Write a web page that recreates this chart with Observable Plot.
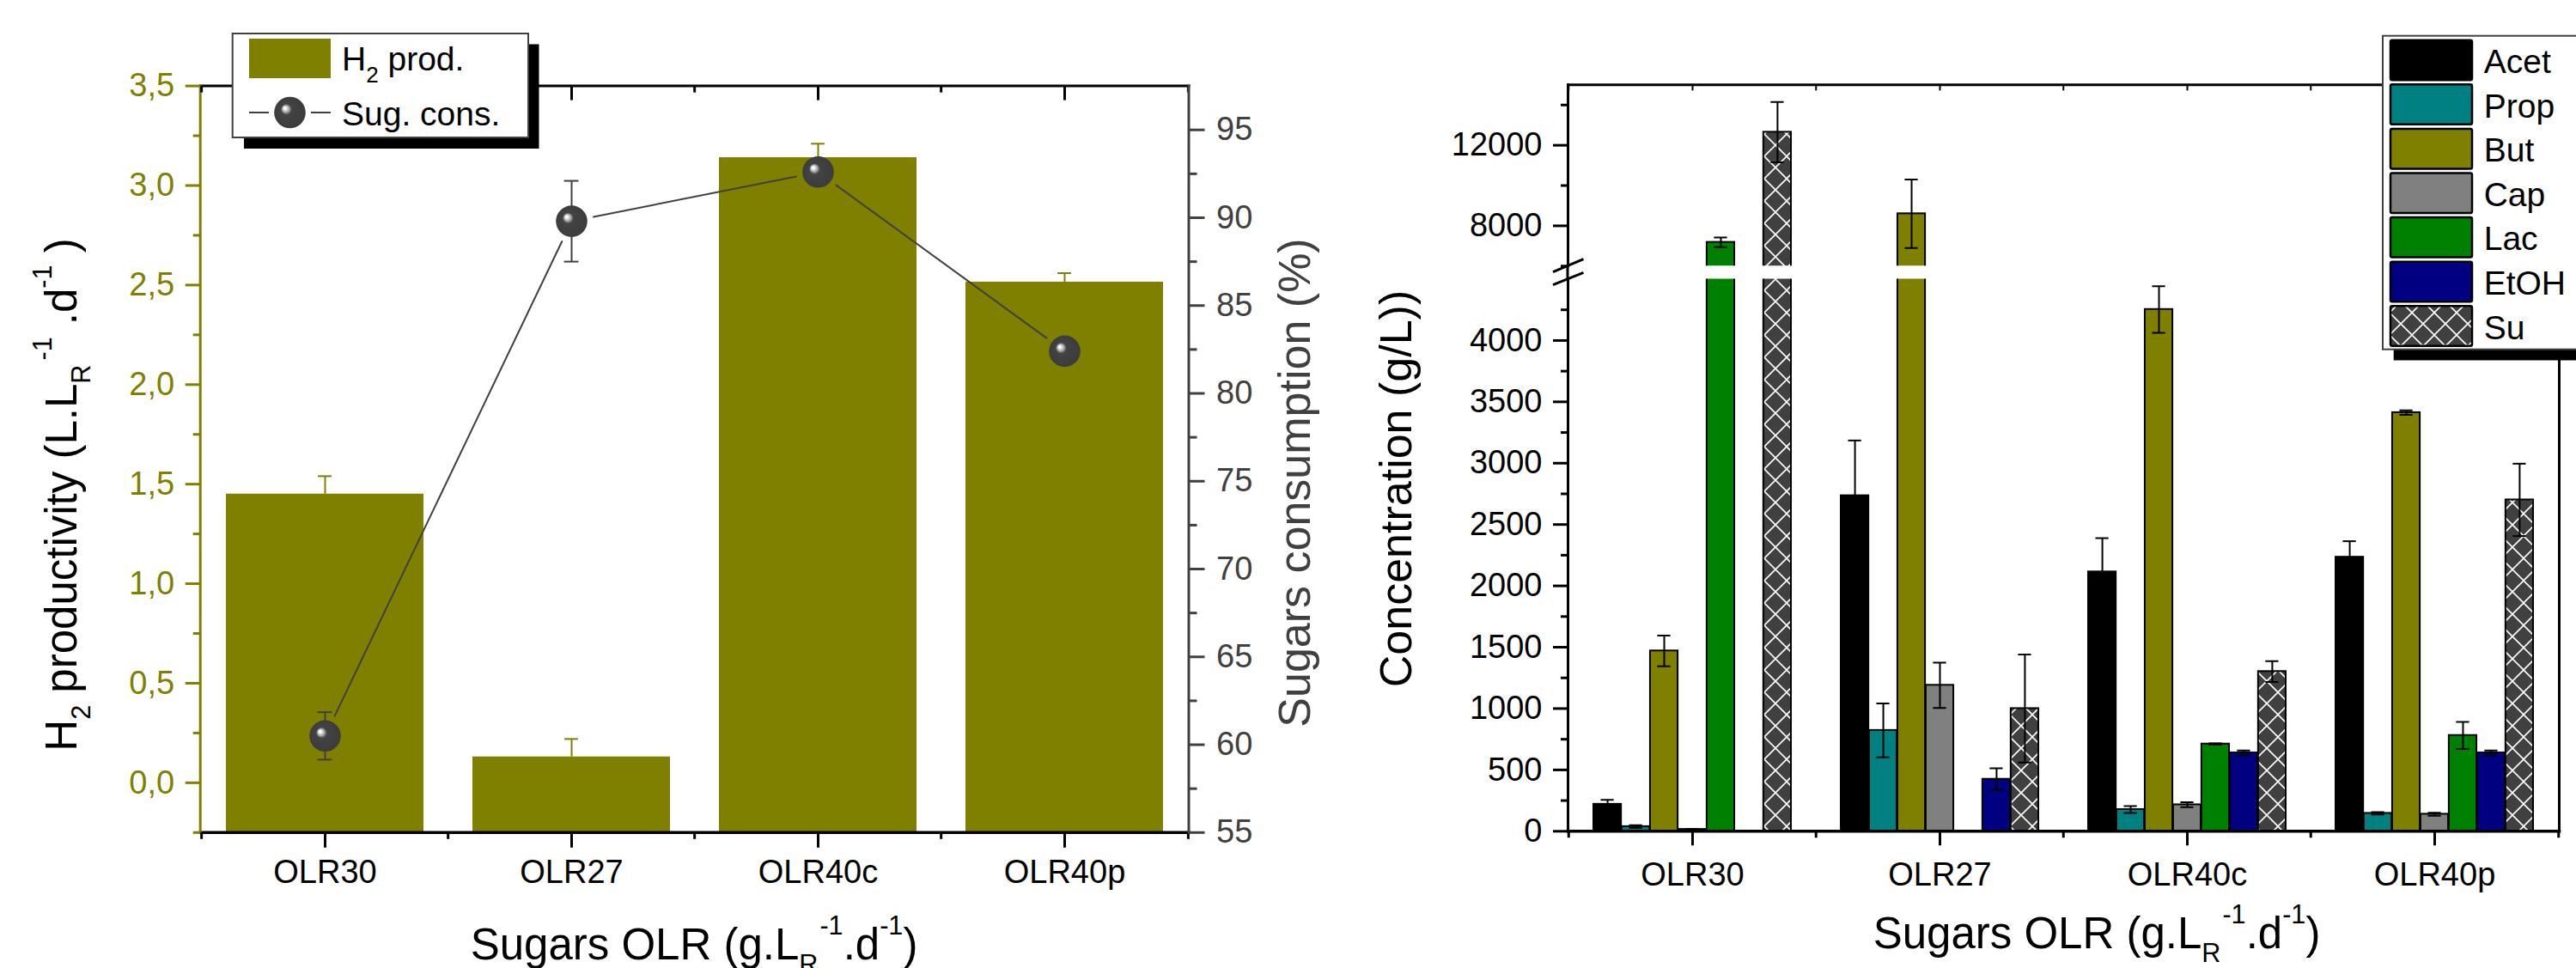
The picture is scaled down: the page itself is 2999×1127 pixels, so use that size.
<!DOCTYPE html>
<html><head><meta charset="utf-8">
<script src="https://cdn.jsdelivr.net/npm/d3@7"></script>
<script src="https://cdn.jsdelivr.net/npm/@observablehq/plot@0.6"></script>
<style>
html,body{margin:0;padding:0;background:#fff;}
#wrap{position:relative;width:2999px;height:1127px;overflow:hidden;background:#fff;}
#wrap svg{position:absolute;left:0;top:0;}
</style></head><body><div id="wrap"></div>
<script>
// ---------------- data ----------------
const categories = ["OLR30", "OLR27", "OLR40c", "OLR40p"];
const h2Prod = [1.45, 0.13, 3.14, 2.515];
const h2ProdErr = [0.09, 0.09, 0.07, 0.045];
const sugarsCons = [60.5, 89.8, 92.6, 82.4];
const sugarsConsErr = [1.35, 2.3, 0.5, 0.3];

const species = ["Acet", "Prop", "But", "Cap", "Lac", "EtOH", "Su"];
const acetConc = [220, 2735, 2114, 2234];
const acetErr = [35, 450, 275, 130];
const propConc = [38, 822, 177, 146];
const propErr = [11, 220, 28, 10];
const butConc = [1470, 8600, 4253, 3412];
const butErr = [125, 1700, 190, 18];
const capConc = [15, 1190, 216, 139];
const capErr = [3, 185, 20, 12];
const lacConc = [7180, 0, 711, 781];
const lacErr = [240, 0, 5, 110];
const etohConc = [0, 424, 639, 639];
const etohErr = [0, 90, 20, 20];
const suConc = [12650, 1000, 1302, 2701];
const suErr = [1500, 440, 85, 295];

const h2Ticks = [0, 0.5, 1, 1.5, 2, 2.5, 3, 3.5];
const h2MinorTicks = [-0.25, 0.25, 0.75, 1.25, 1.75, 2.25, 2.75, 3.25];
const sugTicks = [55, 60, 65, 70, 75, 80, 85, 90, 95];
const sugMinorTicks = [57.5, 62.5, 67.5, 72.5, 77.5, 82.5, 87.5, 92.5];
const concLowTicks = [0, 500, 1000, 1500, 2000, 2500, 3000, 3500, 4000];
const concLowMinorTicks = [250, 750, 1250, 1750, 2250, 2750, 3250, 3750, 4250];
const concHighTicks = [8000, 12000];
const concHighMinorTicks = [6000, 10000, 14000];

const h2Domain = [-0.25, 3.5];
const sugDomain = [55, 97.5];
const concLowDomain = [0, 4500];
const concHighDomain = [6000, 15000];

// ---------------- styles ----------------
const olive = "#808000", dark = "#404040";
const speciesColors = ["#000000", "#008080", "#808000", "#808080", "#008000", "#000080", "url(#suHatch)"];
const font = "'Liberation Sans', Arial, Helvetica, sans-serif";
const W = 2999, H = 1127;
const wrap = document.getElementById("wrap");

// defs: sphere gradient + hatch pattern
const defs = d3.select(wrap).append("svg").attr("width", 0).attr("height", 0).append("defs");
const rg = defs.append("radialGradient").attr("id", "sphere")
  .attr("cx", "50%").attr("cy", "50%").attr("r", "50%").attr("fx", "33%").attr("fy", "35%");
[[0, "#ffffff"], [0.08, "#ffffff"], [0.13, "#d4d4d4"], [0.22, "#a9a9a9"], [0.29, "#6a6a6a"], [0.35, "#434343"], [1, "#3c3c3c"]]
  .forEach(([o, c]) => rg.append("stop").attr("offset", o).attr("stop-color", c));
const pat = defs.append("pattern").attr("id", "suHatch").attr("patternUnits", "userSpaceOnUse")
  .attr("width", 26).attr("height", 26);
pat.append("rect").attr("width", 26).attr("height", 26).attr("fill", "#404040");
pat.append("path").attr("d", "M0,0L26,26M26,0L0,26").attr("stroke", "#ffffff").attr("stroke-width", 1.6);

// ---------------- layout helpers ----------------
function base(fr) {
  return {
    width: W, height: H,
    marginLeft: fr.left, marginRight: W - fr.right, marginTop: fr.top, marginBottom: H - fr.bottom,
    style: {background: "transparent", fontFamily: font, fontSize: "38px", overflow: "visible"}
  };
}
const xBand = {type: "band", domain: categories, paddingInner: 0.2, paddingOuter: 0.1, label: null};
const blank = () => "";

// ---------------- LEFT CHART ----------------
const L = {left: 232.7, right: 1383.5, top: 99.6, bottom: 968.8};
const stepL = (L.right - L.left) / 4, bwL = stepL * 0.8, hL = L.bottom - L.top;
const h2Data = categories.map((c, i) => ({cat: c, v: h2Prod[i], e: h2ProdErr[i]}));
const sugData = categories.map((c, i) => ({cat: c, v: sugarsCons[i], e: sugarsConsErr[i]}));
const sugLinks = sugData.slice(1).map((d, i) => ({a: sugData[i], b: d}));

const L1 = Plot.plot({
  ...base(L),
  x: xBand,
  y: {domain: h2Domain, label: null},
  marks: [
    Plot.barY(h2Data, {x: "cat", y1: h2Domain[0], y2: "v", fill: olive}),
    Plot.ruleX(h2Data, {x: "cat", y1: "v", y2: d => d.v + d.e, stroke: olive, strokeWidth: 2}),
    Plot.tickY(h2Data, {x: "cat", y: d => d.v + d.e, stroke: olive, strokeWidth: 2, insetLeft: bwL / 2 - 8, insetRight: bwL / 2 - 8}),
    Plot.frame({anchor: "top", stroke: "black", strokeWidth: 3}),
    Plot.frame({anchor: "bottom", stroke: "black", strokeWidth: 3.5}),
    Plot.frame({anchor: "left", stroke: olive, strokeWidth: 3}),
    Plot.axisY({ticks: h2Ticks, tickSize: 17, tickPadding: 13, tickFormat: d => d.toFixed(1).replace(".", ","), color: olive, strokeWidth: 3}),
    Plot.axisY({ticks: h2MinorTicks, tickSize: 8, tickFormat: blank, color: olive, strokeWidth: 3}),
    Plot.axisX({ticks: categories, tickSize: 18, tickPadding: 14, strokeWidth: 3, color: "black"}),
    Plot.tickX(categories, {x: d => d, dx: -stepL / 2, insetTop: hL, insetBottom: -8, strokeWidth: 3}),
    Plot.tickX(categories.slice(-1), {x: d => d, dx: stepL / 2, insetTop: hL, insetBottom: -8, strokeWidth: 3}),
    Plot.tickX(categories, {x: d => d, insetBottom: hL - 17, strokeWidth: 3}),
    Plot.tickX(categories, {x: d => d, dx: -stepL / 2, insetBottom: hL - 8, strokeWidth: 3}),
    Plot.tickX(categories.slice(-1), {x: d => d, dx: stepL / 2, insetBottom: hL - 8, strokeWidth: 3})
  ]
});
wrap.appendChild(L1);

const L2 = Plot.plot({
  ...base(L),
  x: {...xBand, axis: null},
  y: {domain: sugDomain, label: null},
  marks: [
    Plot.frame({anchor: "right", stroke: dark, strokeWidth: 3}),
    Plot.axisY({anchor: "right", ticks: sugTicks, tickSize: 18, tickPadding: 14, color: dark, strokeWidth: 3}),
    Plot.axisY({anchor: "right", ticks: sugMinorTicks, tickSize: 9, tickFormat: blank, color: dark, strokeWidth: 3}),
    Plot.arrow(sugLinks, {x1: d => d.a.cat, y1: d => d.a.v, x2: d => d.b.cat, y2: d => d.b.v,
      insetStart: 26, insetEnd: 26, headLength: 0, stroke: dark, strokeWidth: 2}),
    Plot.ruleX(sugData, {x: "cat", y1: d => d.v - d.e, y2: d => d.v + d.e, stroke: dark, strokeWidth: 2}),
    Plot.tickY(sugData, {x: "cat", y: d => d.v + d.e, stroke: dark, strokeWidth: 2, insetLeft: bwL / 2 - 8.5, insetRight: bwL / 2 - 8.5}),
    Plot.tickY(sugData, {x: "cat", y: d => d.v - d.e, stroke: dark, strokeWidth: 2, insetLeft: bwL / 2 - 8.5, insetRight: bwL / 2 - 8.5}),
    Plot.dot(sugData, {x: "cat", y: "v", r: 18.3, fill: "url(#sphere)", stroke: "none"})
  ]
});
wrap.appendChild(L2);

// ---------------- RIGHT CHART ----------------
const RU = {left: 1825, right: 2979, top: 98.3, bottom: 309.3};
const RL = {left: 1825, right: 2979, top: 324.5, bottom: 967.3};
const stepR = (RL.right - RL.left) / 4, bwR = stepR * 0.8, sub = bwR / 7;
const concArrays = [acetConc, propConc, butConc, capConc, lacConc, etohConc, suConc];
const errArrays = [acetErr, propErr, butErr, capErr, lacErr, etohErr, suErr];
const concRows = species.map((s, i) => categories.map((c, j) => ({cat: c, species: s, v: concArrays[i][j], e: errArrays[i][j]})));

function concMarks() {
  const marks = [];
  species.forEach((s, i) => {
    marks.push(Plot.barY(concRows[i].filter(d => d.v > 0), {
      x: "cat", y: "v", fill: speciesColors[i], stroke: "black", strokeWidth: 2,
      insetLeft: i * sub, insetRight: (6 - i) * sub, clip: true
    }));
  });
  species.forEach((s, i) => {
    const rows = concRows[i].filter(d => d.e > 0);
    const c = (i + 0.5) * sub;
    marks.push(Plot.ruleX(rows, {x: "cat", y1: d => d.v - d.e, y2: d => d.v + d.e, dx: c - bwR / 2, stroke: "black", strokeWidth: 2, clip: true}));
    marks.push(Plot.tickY(rows, {x: "cat", y: d => d.v + d.e, insetLeft: c - 8, insetRight: bwR - c - 8, stroke: "black", strokeWidth: 2, clip: true}));
    marks.push(Plot.tickY(rows, {x: "cat", y: d => d.v - d.e, insetLeft: c - 8, insetRight: bwR - c - 8, stroke: "black", strokeWidth: 2, clip: true}));
  });
  return marks;
}
const hRU = RU.bottom - RU.top, hRL = RL.bottom - RL.top;
const RUp = Plot.plot({
  ...base(RU),
  x: {...xBand, axis: null},
  y: {domain: concHighDomain, label: null},
  marks: [
    ...concMarks(),
    Plot.frame({anchor: "top", stroke: "black", strokeWidth: 3}),
    Plot.frame({anchor: "left", stroke: "black", strokeWidth: 3}),
    Plot.frame({anchor: "right", stroke: "black", strokeWidth: 3}),
    Plot.axisY({ticks: concHighTicks, tickSize: 17, tickPadding: 13, tickFormat: d3.format("d"), color: "black", strokeWidth: 3}),
    Plot.axisY({ticks: concHighMinorTicks, tickSize: 8, tickFormat: blank, color: "black", strokeWidth: 3}),
    Plot.tickX(categories, {x: d => d, insetBottom: hRU - 7, strokeWidth: 2}),
    Plot.tickX(categories, {x: d => d, dx: -stepR / 2, insetBottom: hRU - 7, strokeWidth: 2})
  ]
});
wrap.appendChild(RUp);

const RLow = Plot.plot({
  ...base(RL),
  x: xBand,
  y: {domain: concLowDomain, label: null},
  marks: [
    ...concMarks(),
    Plot.frame({anchor: "bottom", stroke: "black", strokeWidth: 3.5}),
    Plot.frame({anchor: "left", stroke: "black", strokeWidth: 3}),
    Plot.frame({anchor: "right", stroke: "black", strokeWidth: 3}),
    Plot.axisY({ticks: concLowTicks, tickSize: 17, tickPadding: 13, tickFormat: d3.format("d"), color: "black", strokeWidth: 3}),
    Plot.axisY({ticks: concLowMinorTicks, tickSize: 8, tickFormat: blank, color: "black", strokeWidth: 3}),
    Plot.axisX({ticks: categories, tickSize: 17, tickPadding: 19, strokeWidth: 3, color: "black"}),
    Plot.tickX(categories, {x: d => d, dx: -stepR / 2, insetTop: hRL, insetBottom: -8, strokeWidth: 3}),
    Plot.tickX(categories.slice(-1), {x: d => d, dx: stepR / 2, insetTop: hRL, insetBottom: -8, strokeWidth: 3})
  ]
});
wrap.appendChild(RLow);

// ---------------- overlay: titles, legends, break marks ----------------
const ov = d3.select(wrap).append("svg").attr("width", W).attr("height", H)
  .style("font-family", font).style("white-space", "pre");

function rich(x, y, rotate, parts, size, fill) {
  const t = ov.append("text")
    .attr("transform", `translate(${x},${y})` + (rotate ? ` rotate(${rotate})` : ""))
    .attr("text-anchor", "middle").attr("font-size", size).attr("fill", fill);
  let cur = 0;
  for (const [s, k, ddx] of parts) {
    const shift = k === "sub" ? size * 0.32 : k === "sup" ? -size * 0.56 : 0;
    const ts = t.append("tspan").text(s).attr("dy", shift - cur);
    if (k !== "n") ts.attr("font-size", size * 0.6);
    if (ddx) ts.attr("dx", ddx);
    cur = shift;
  }
  return t;
}
const olrTitle = [["Sugars OLR (g.L", "n"], ["R", "sub"], ["-1", "sup", 2], [".d", "n"], ["-1", "sup"], [")", "n"]];
rich(89, 576, -90, [["H", "n"], ["2", "sub"], [" productivity (L.L", "n"], ["R", "sub"], ["-1", "sup", 5], [" .d", "n"], ["-1", "sup"], [" )", "n"]], 51, "black");
rich(808, 1117, 0, olrTitle, 51, "black");
rich(1525, 562, -90, [["Sugars consumption (%)", "n"]], 52, dark);
rich(1643, 569, -90, [["Concentration (g/L))", "n"]], 52, "black");
rich(2441, 1104, 0, olrTitle, 51, "black");

// axis break marks
ov.append("line").attr("x1", 1808).attr("y1", 316.7).attr("x2", 1843.5).attr("y2", 301.7).attr("stroke", "black").attr("stroke-width", 3);
ov.append("line").attr("x1", 1808).attr("y1", 331.7).attr("x2", 1843.5).attr("y2", 317.3).attr("stroke", "black").attr("stroke-width", 3);
ov.append("line").attr("x1", 1825).attr("y1", 309).attr("x2", 1825).attr("y2", 325).attr("stroke", "black").attr("stroke-width", 3);

// left legend
ov.append("rect").attr("x", 284).attr("y", 51.5).attr("width", 343.5).attr("height", 121.5).attr("fill", "black");
ov.append("rect").attr("x", 270.7).attr("y", 39).attr("width", 344.3).attr("height", 121).attr("fill", "white").attr("stroke", dark).attr("stroke-width", 2);
ov.append("rect").attr("x", 290).attr("y", 45).attr("width", 95).attr("height", 46).attr("fill", olive);
const lt1 = ov.append("text").attr("x", 398).attr("y", 81.7).attr("font-size", 39).attr("fill", "black");
lt1.append("tspan").text("H");
lt1.append("tspan").text("2").attr("font-size", 26).attr("dy", 14);
lt1.append("tspan").text(" prod.").attr("dy", -14);
ov.append("line").attr("x1", 290).attr("y1", 131).attr("x2", 313).attr("y2", 131).attr("stroke", dark).attr("stroke-width", 2);
ov.append("line").attr("x1", 362).attr("y1", 131).attr("x2", 385).attr("y2", 131).attr("stroke", dark).attr("stroke-width", 2);
ov.append("circle").attr("cx", 337.5).attr("cy", 131).attr("r", 18.3).attr("fill", "url(#sphere)");
ov.append("text").attr("x", 398).attr("y", 146).attr("font-size", 39).attr("fill", "black").text("Sug. cons.");

// right legend
ov.append("rect").attr("x", 2786.7).attr("y", 54.5).attr("width", 300).attr("height", 365).attr("fill", "black");
ov.append("rect").attr("x", 2774).attr("y", 41.7).attr("width", 300).attr("height", 365).attr("fill", "white").attr("stroke", dark).attr("stroke-width", 2);
species.forEach((s, i) => {
  const y0 = 46.7 + i * 51.6;
  ov.append("rect").attr("x", 2783).attr("y", y0).attr("width", 95).attr("height", 46.5).attr("rx", 2)
    .attr("fill", speciesColors[i]).attr("stroke", "black").attr("stroke-width", 2.5);
  ov.append("text").attr("x", 2891.7).attr("y", y0 + 38.3).attr("font-size", 39).attr("fill", "black").text(s);
});
</script>
</body></html>
